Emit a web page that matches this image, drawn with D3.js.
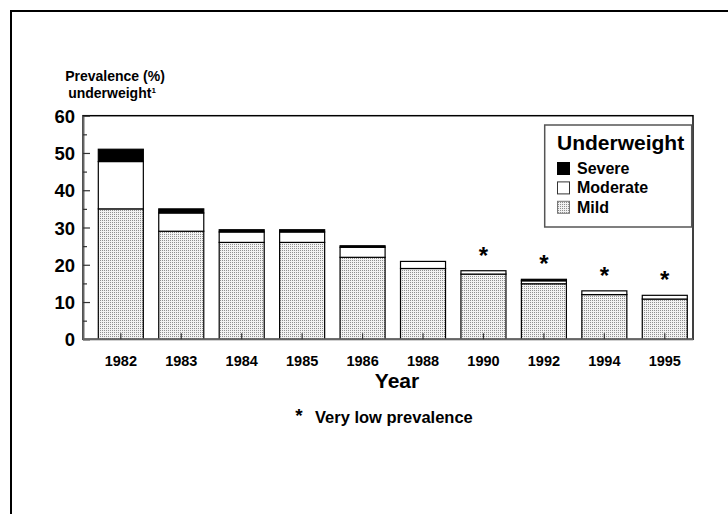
<!DOCTYPE html>
<html>
<head>
<meta charset="utf-8">
<script src="https://cdn.jsdelivr.net/npm/d3@7"></script>
<style>
  html, body { margin: 0; padding: 0; background: #fff; }
  svg { display: block; font-family: "Liberation Sans", Arial, Helvetica, sans-serif; font-weight: bold; }
</style>
</head>
<body>
<svg id="chart" width="728" height="514"></svg>
<script>
// ---- data ----
const years = ["1982", "1983", "1984", "1985", "1986", "1988", "1990", "1992", "1994", "1995"];
const mild = [35, 29, 26, 26, 22, 19, 17.5, 14.9, 12, 10.8];
const moderate = [12.7, 4.9, 2.8, 2.8, 2.7, 1.9, 0.9, 0.8, 1.0, 1.0];
const severe = [3.3, 1.1, 0.6, 0.6, 0.4, 0, 0, 0.4, 0, 0];
const veryLow = [false, false, false, false, false, false, true, true, true, true];
const yTicksMajor = [0, 10, 20, 30, 40, 50, 60];
const yTicksMinor = [5, 15, 25, 35, 45, 55];
const seriesKeys = ["mild", "moderate", "severe"];
const legendLabels = ["Severe", "Moderate", "Mild"];

(function () {
// ---- setup ----
const svg = d3.select("#chart");
const defs = svg.append("defs");
const pat = defs.append("pattern").attr("id", "dots")
  .attr("patternUnits", "userSpaceOnUse").attr("width", 2).attr("height", 2);
pat.append("rect").attr("width", 2).attr("height", 2).attr("fill", "#f2f2f2");
pat.append("rect").attr("width", 1).attr("height", 1).attr("fill", "#8f8f8f");

const fills = { mild: "url(#dots)", moderate: "#ffffff", severe: "#000000" };

// outer frame (extends beyond the right / bottom edge)
svg.append("path").attr("d", "M11,520 L11,11 L740,11")
  .attr("fill", "none").attr("stroke", "#000").attr("stroke-width", 2);

const pLeft = 83, pRight = 693, pTop = 115.7, pBottom = 339.3;
const x = d3.scaleBand().domain(years).range([90.6, 695]).paddingInner(0.255).paddingOuter(0.1275);
const y = d3.scaleLinear().domain([0, 60]).range([pBottom, pTop]);

// plot box
svg.append("rect").attr("x", pLeft).attr("y", pTop).attr("width", pRight - pLeft).attr("height", pBottom - pTop)
  .attr("fill", "none").attr("stroke", "#000").attr("stroke-width", 1.5);

// stacked bars
const table = years.map((yr, i) => ({ year: yr, mild: mild[i], moderate: moderate[i], severe: severe[i] }));
const stacked = d3.stack().keys(seriesKeys)(table);
svg.append("g").selectAll("g").data(stacked).join("g")
  .attr("fill", d => fills[d.key])
  .selectAll("rect").data(d => d.filter(p => p[1] - p[0] > 0)).join("rect")
  .attr("x", d => x(d.data.year))
  .attr("width", x.bandwidth())
  .attr("y", d => y(d[1]))
  .attr("height", d => y(d[0]) - y(d[1]))
  .attr("stroke", "#000").attr("stroke-width", 1.2);

// asterisks for very low prevalence
svg.append("g").selectAll("text").data(table.filter((d, i) => veryLow[i])).join("text")
  .attr("x", d => x(d.year) + x.bandwidth() / 2)
  .attr("y", d => y(d.mild + d.moderate + d.severe) - 7)
  .attr("text-anchor", "middle").attr("font-size", 24).text("*");

// y axis
const yAxisMajor = d3.axisLeft(y).tickValues(yTicksMajor).tickSizeInner(-7).tickSizeOuter(0).tickPadding(8);
const gy = svg.append("g").attr("transform", `translate(${pLeft},0)`).call(yAxisMajor);
gy.select(".domain").attr("stroke", "#666").attr("stroke-width", 2);
gy.selectAll(".tick line").attr("stroke", "#333").attr("stroke-width", 1.2);
gy.selectAll(".tick text").attr("font-size", 18.5).attr("font-weight", "bold").attr("font-family", "Liberation Sans, Arial, sans-serif").attr("fill", "#000").attr("dy", "0.36em");
const yAxisMinor = d3.axisLeft(y).tickValues(yTicksMinor).tickSizeInner(-4).tickSizeOuter(0).tickFormat("");
const gym = svg.append("g").attr("transform", `translate(${pLeft},0)`).call(yAxisMinor);
gym.select(".domain").remove();
gym.selectAll(".tick line").attr("stroke", "#333").attr("stroke-width", 1.2);

// x axis
const xAxis = d3.axisBottom(x).tickSizeInner(-6).tickSizeOuter(0).tickPadding(16.5);
const gx = svg.append("g").attr("transform", `translate(0,${pBottom})`).call(xAxis);
gx.select(".domain").attr("d", `M${pLeft},0H${pRight}`).attr("stroke", "#666").attr("stroke-width", 2);
gx.selectAll(".tick line").attr("stroke", "#333").attr("stroke-width", 1.2);
gx.selectAll(".tick text").attr("font-size", 14.5).attr("font-weight", "bold").attr("font-family", "Liberation Sans, Arial, sans-serif").attr("fill", "#000");

// axis titles
svg.append("text").attr("x", 115).attr("y", 80.5).attr("text-anchor", "middle").attr("font-size", 14).text("Prevalence (%)");
const ut = svg.append("text").attr("x", 112).attr("y", 97.5).attr("text-anchor", "middle").attr("font-size", 14);
ut.append("tspan").text("underweight");
ut.append("tspan").attr("font-size", 8).attr("dy", -5).text("1");
svg.append("text").attr("x", 397).attr("y", 388).attr("text-anchor", "middle").attr("font-size", 21).text("Year");

// footnote
svg.append("text").attr("x", 299).attr("y", 422).attr("text-anchor", "middle").attr("font-size", 19).text("*");
svg.append("text").attr("x", 315).attr("y", 423).attr("font-size", 16.5).text("Very low prevalence");

// legend
const lg = svg.append("g");
lg.append("rect").attr("x", 544.7).attr("y", 125).attr("width", 147).attr("height", 102)
  .attr("fill", "#fff").attr("stroke", "#555").attr("stroke-width", 1.5);
lg.append("text").attr("x", 557).attr("y", 150).attr("font-size", 21).text("Underweight");
const legendFills = ["#000", "#fff", "url(#dots)"];
const legendStrokes = ["#000", "#333", "#777"];
legendLabels.forEach((lab, i) => {
  const by = 174 + i * 19.4;
  lg.append("rect").attr("x", 557.5).attr("y", by - 11.5).attr("width", 12).attr("height", 12)
    .attr("fill", legendFills[i]).attr("stroke", legendStrokes[i]).attr("stroke-width", 1);
  lg.append("text").attr("x", 577).attr("y", by).attr("font-size", 16).text(lab);
});
})();
</script>
</body>
</html>
